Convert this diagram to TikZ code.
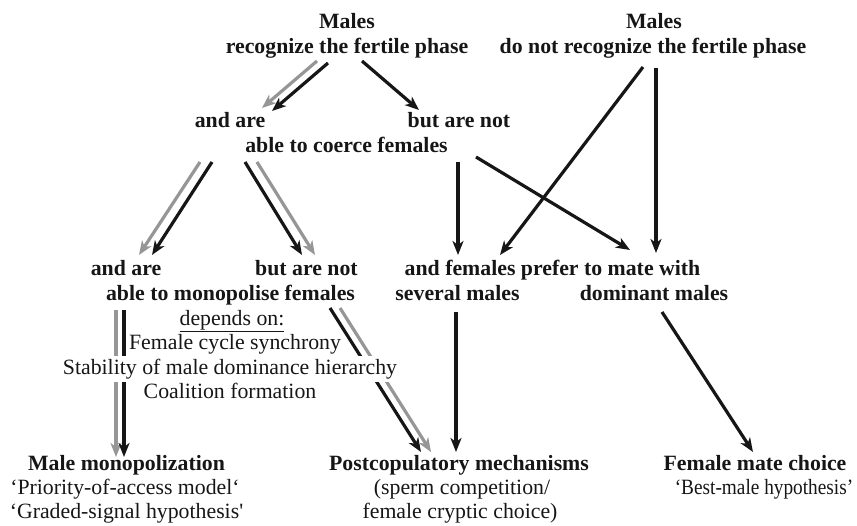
\documentclass[tikz,border=0pt]{standalone}
\usepackage{fontspec}
\setmainfont{Liberation Serif}[Ligatures=TeXOff]
\usetikzlibrary{math}
\usetikzlibrary{calc}
\usetikzlibrary{arrows.meta}
\definecolor{lightline}{RGB}{150,150,150}
\definecolor{darkline}{RGB}{22,22,22}

\begin{document}
\begin{tikzpicture}[x=1pt,y=-1pt,
  head/.style={font=\fontsize{21.8}{25}\selectfont\bfseries, text=darkline, inner sep=0pt, anchor=base},
  body/.style={font=\fontsize{21.8}{25}\selectfont, text=darkline, inner sep=0pt, anchor=base},
  blk/.style={darkline, line width=3.2pt, -{Stealth[length=14pt,width=11pt,inset=4pt]}},
  gry/.style={blk, lightline}]
%\draw[blue] (0,0) rectangle (857,525);
\useasboundingbox (0,0) rectangle (857,525);

\tikzmath{
\rowa = 28;
\rowb = 53;
\rowc = 127;
\rowd = 152;
\rowe = 275;
\rowf = 300;
\rowg = 470;
\rowh = 494;
\rowi = 518;
}

%top
\node[head] (malesL) at (347,\rowa) {Males};
\node[head] (recogL) at (347,\rowb) {recognize the fertile phase};
\node[head] (malesR) at (654,\rowa) {Males};
\node[head] (recogR) at (653,\rowb) {do not recognize the fertile phase};

\node[head] (andC) at (230,\rowc) {and are};
\node[head] (butC) at (459,\rowc) {but are not};
\node[head] (coerce) at (346.5,\rowd) {able to coerce females};

\node[head] (andM) at (126,\rowe) {and are};
\node[head] (butM) at (306.5,\rowe) {but are not};
\node[head] (monop) at (230.5,\rowf) {able to monopolise females};
\node[head] (prefer) at (552.5,\rowe) {and females prefer to mate with};
\node[head] (several) at (457.5,\rowf) {several males};
\node[head] (dominant) at (654,\rowf) {dominant males};

%bottom
\node[head] (malemono) at (126.5,\rowg) {Male monopolization};
\node[body] (priority) at (125,\rowh) {‘Priority-of-access model‘};
\node[body] (graded) at (126.5,\rowi) {‘Graded-signal hypothesis'};
\node[head] (postcop) at (459,\rowg) {Postcopulatory mechanisms};
\node[body] (sperm) at (462,\rowh) {(sperm competition/};
\node[body] (cryptic) at (460,\rowi) {female cryptic choice)};
\node[head] (femchoice) at (755,\rowg) {Female mate choice};
\node[body] (bestmale) at (764,\rowh) {\scalebox{0.885}[1]{‘Best-male hypothesis’}};

%arrows
\draw[gry] ($(recogL.base)+(-30,8)$) -- ($(andC.base)+(32,-19)$);
\draw[blk] ($(recogL.base)+(-19,10)$) -- ($(andC.base)+(42,-16)$);
\draw[blk] ($(recogL.base)+(15,8)$) -- ($(butC.base)+(-40,-17)$);

\draw[gry] ($(coerce.base)+(-146.5,10)$) -- ($(andM.base)+(13,-20)$);
\draw[blk] ($(coerce.base)+(-134.5,10)$) -- ($(andM.base)+(26,-20)$);
\draw[blk] ($(coerce.base)+(-101.5,10)$) -- ($(butM.base)+(-4.5,-20)$);
\draw[gry] ($(coerce.base)+(-89.5,10)$) -- ($(butM.base)+(8.5,-20)$);
\draw[blk] ($(coerce.base)+(111.5,10)$) -- ($(prefer.base)+(-94.5,-20)$);
\draw[blk] ($(coerce.base)+(129.5,5)$) -- ($(prefer.base)+(77.5,-25)$);

\draw[blk] ($(recogR.base)+(-10,14)$) -- ($(prefer.base)+(-52.5,-20)$);
\draw[blk] ($(recogR.base)+(3,15)$) -- ($(prefer.base)+(103.5,-22)$);

\draw[gry] ($(monop.base)+(-114.5,10)$) -- ($(malemono.base)+(-10.5,-13)$);
\draw[blk] ($(monop.base)+(-106.5,10)$) -- ($(malemono.base)+(-2.5,-13)$);
\draw[blk] ($(monop.base)+(99.5,8)$) -- ($(postcop.base)+(-38,-18)$);
\draw[gry] ($(monop.base)+(109.5,8)$) -- ($(postcop.base)+(-28,-18)$);
\draw[blk] ($(several.base)+(-1.5,12)$) -- ($(postcop.base)+(-3,-18)$);
\draw[blk] ($(dominant.base)+(8,12)$) -- ($(femchoice.base)+(-2,-18)$);

%depends on
\node[body] (depends) at (232,325) {\underline{depends on:}};
\node[body] (cycle) at (235,349.5) {Female cycle synchrony};
\node[body, fill=white, inner ysep=3pt] (stability) at (230,374) {Stability of male dominance hierarchy};
\node[body] (coalition) at (230,398) {Coalition formation};

\end{tikzpicture}
\end{document}
